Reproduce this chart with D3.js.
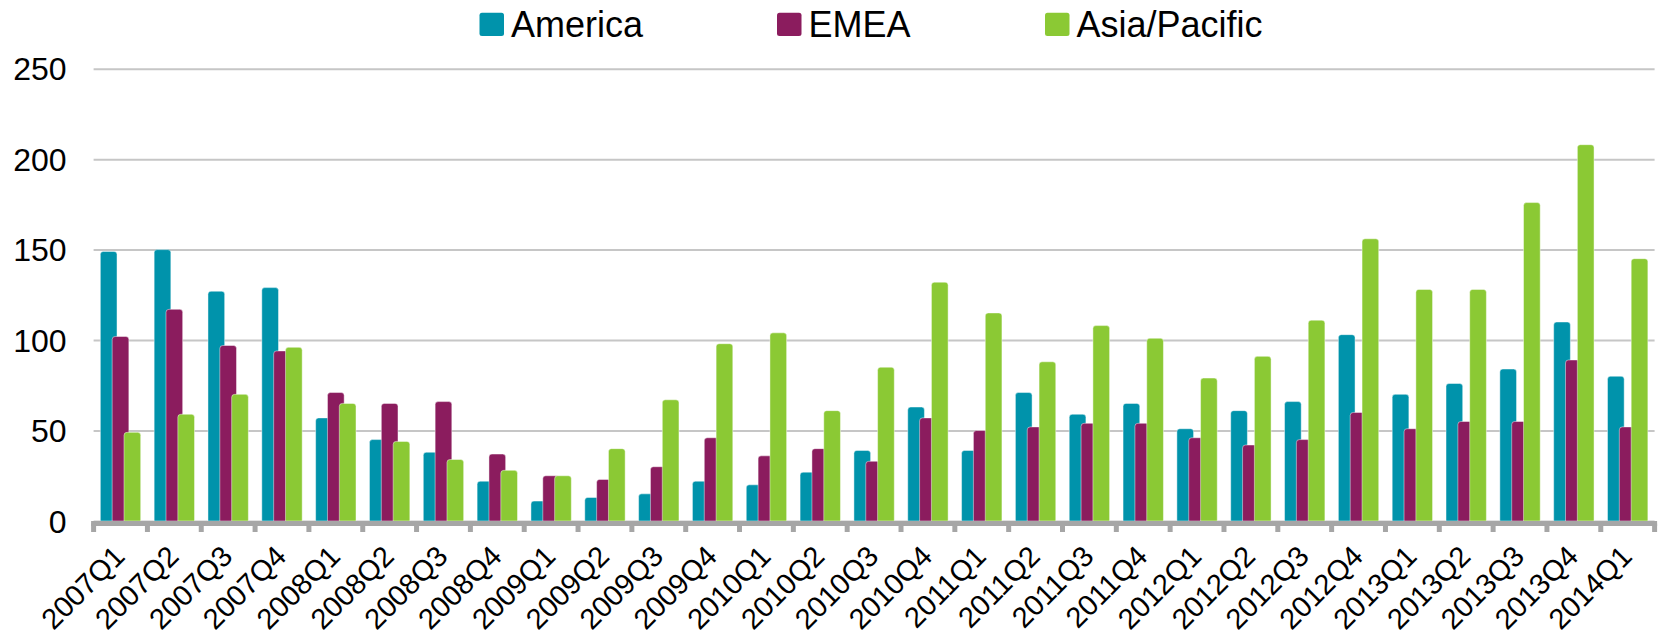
<!DOCTYPE html>
<html>
<head>
<meta charset="utf-8">
<script src="https://cdn.jsdelivr.net/npm/d3@7"></script>
<style>
  body { margin: 0; background: #fff; }
  svg text { font-family: "Liberation Sans", Arial, sans-serif; fill: #000; }
</style>
</head>
<body>
<div id="chart"></div>
<script>
// quarterly values
const quarters = ['2007Q1','2007Q2','2007Q3','2007Q4','2008Q1','2008Q2','2008Q3','2008Q4',
  '2009Q1','2009Q2','2009Q3','2009Q4','2010Q1','2010Q2','2010Q3','2010Q4',
  '2011Q1','2011Q2','2011Q3','2011Q4','2012Q1','2012Q2','2012Q3','2012Q4',
  '2013Q1','2013Q2','2013Q3','2013Q4','2014Q1']
const america = [149,150,127,129,57,45,38,22,11,13,15,22,20,27,39,63,39,71,59,65,51,61,66,103,70,76,84,110,80]
const emea = [102,117,97,94,71,65,66,37,25,23,30,46,36,40,33,57,50,52,54,54,46,42,45,60,51,55,55,89,52]
const asiaPacific = [49,59,70,96,65,44,34,28,25,40,67,98,104,61,85,132,115,88,108,101,79,91,111,156,128,128,176,208,145]
const seriesNames = ['America','EMEA','Asia/Pacific']
const yTicks = [0,50,100,150,200,250]

const colors = ['#0093ab','#8b1c5e','#8bc934']
const series = [america, emea, asiaPacific]

const width = 1659, height = 638
const plotLeft = 93.6, plotRight = 1654.6, plotTop = 68.7, plotBottom = 521

const svg = d3.select('#chart').append('svg')
  .attr('width', width)
  .attr('height', height)

const x = d3.scaleBand().domain(quarters).range([plotLeft, plotRight]).padding(0)
const y = d3.scaleLinear().domain([0, 250]).range([plotBottom, plotTop])

// gridlines + y labels
const yAxis = svg.append('g')
  .attr('transform', `translate(${plotLeft},0)`)
  .call(d3.axisLeft(y).tickValues(yTicks).tickSize(-(plotRight - plotLeft)).tickPadding(27))
yAxis.select('.domain').remove()
yAxis.selectAll('line').attr('stroke', '#c6c6c6').attr('stroke-width', 2)
yAxis.selectAll('text').style('font-size', '32px').attr('dy', '0.35em')

// bars, overlapping a little like the original
const bw = x.bandwidth()
const barW = bw * 0.31
const step = bw * 0.22
const inset = (bw - (2 * step + barW)) / 2

function barPath(x0, y0, w, h, r) {
  r = Math.min(r, h)
  return `M${x0},${y0 + h}V${y0 + r}Q${x0},${y0} ${x0 + r},${y0}H${x0 + w - r}Q${x0 + w},${y0} ${x0 + w},${y0 + r}V${y0 + h}Z`
}

series.forEach((vals, si) => {
  svg.append('g')
    .selectAll('path')
    .data(vals)
    .enter().append('path')
    .attr('d', (d, i) => barPath(x(quarters[i]) + inset + si * step, y(d), barW, y(0) - y(d), 3))
    .attr('fill', colors[si])
    .attr('stroke', 'rgba(255,255,255,0.45)')
    .attr('stroke-width', 1)
})

// x axis line and boundary ticks
const axisY = 523.5
svg.append('line')
  .attr('x1', plotLeft - 2.5).attr('x2', plotRight + 2.5)
  .attr('y1', axisY).attr('y2', axisY)
  .attr('stroke', '#a6a6a6').attr('stroke-width', 5)
const bounds = quarters.map(q => x(q)).concat([plotRight])
svg.append('g').selectAll('line')
  .data(bounds)
  .enter().append('line')
  .attr('x1', d => d).attr('x2', d => d)
  .attr('y1', axisY).attr('y2', 532)
  .attr('stroke', '#a6a6a6').attr('stroke-width', 5)

// rotated category labels
const xAxis = svg.append('g')
  .attr('transform', `translate(0,${plotBottom})`)
  .call(d3.axisBottom(x).tickSize(0).tickPadding(0))
xAxis.select('.domain').remove()
xAxis.selectAll('text')
  .style('font-size', '29px')
  .attr('text-anchor', 'end')
  .attr('dy', 0)
  .attr('y', 0)
  .attr('transform', 'translate(6,37) rotate(-45)')

// legend
const legendX = [479.5, 777, 1045]
const legend = svg.append('g').selectAll('g')
  .data(seriesNames)
  .enter().append('g')
  .attr('transform', (d, i) => `translate(${legendX[i]},12.7)`)
legend.append('rect')
  .attr('width', 24.5).attr('height', 23.3).attr('rx', 2.5)
  .attr('fill', (d, i) => colors[i])
legend.append('text')
  .attr('x', 31.5).attr('y', 24)
  .style('font-size', '36px')
  .text(d => d)
</script>
</body>
</html>
